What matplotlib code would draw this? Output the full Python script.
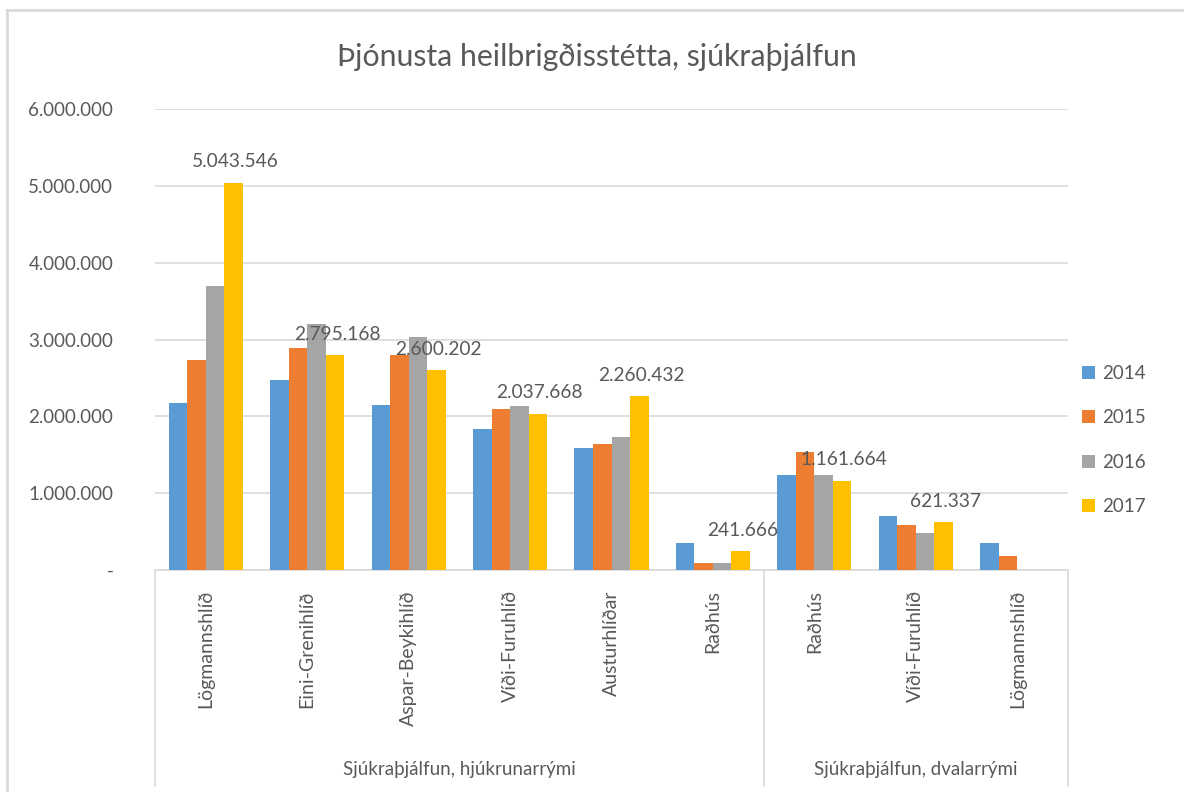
import matplotlib
matplotlib.use("Agg")
import matplotlib.pyplot as plt
from matplotlib.lines import Line2D
import matplotlib.transforms as mtransforms
import numpy as np

plt.rcParams['font.family'] = ['Lato', 'DejaVu Sans']

title = "Þjónusta heilbrigðisstétta, sjúkraþjálfun"
categories = ["Lögmannshlíð", "Eini-Grenihlíð", "Aspar-Beykihlíð", "Víði-Furuhlíð",
              "Austurhlíðar", "Raðhús", "Raðhús", "Víði-Furuhlíð", "Lögmannshlíð"]
groups = ["Sjúkraþjálfun, hjúkrunarrými", "Sjúkraþjálfun, dvalarrými"]
group_sizes = [6, 3]
years = ["2014", "2015", "2016", "2017"]
v2014 = [2180000, 2480000, 2150000, 1830000, 1585000, 347000, 1233000, 699000, 347000]
v2015 = [2730000, 2890000, 2800000, 2100000, 1637000, 95000, 1532000, 582000, 182000]
v2016 = [3700000, 3200000, 3030000, 2135000, 1736000, 95000, 1233000, 482000, 0]
v2017 = [5043546, 2795168, 2600202, 2037668, 2260432, 241666, 1161664, 621337, 0]
yticks = [0, 1000000, 2000000, 3000000, 4000000, 5000000, 6000000]

series = [v2014, v2015, v2016, v2017]
colors = ["#5B9BD5", "#ED7D31", "#A5A5A5", "#FFC000"]
txt = "#595959"
grid = "#D9D9D9"

W, H = 1184, 792
fig = plt.figure(figsize=(W / 100, H / 100), dpi=100)
fig.patch.set_facecolor("white")

L, R, B, T = 155, 1068, 570, 109.3
ax = fig.add_axes([L / W, 1 - B / H, (R - L) / W, (B - T) / H])

def fmt(v):
    if v == 0:
        return "-"
    return f"{int(v):,}".replace(",", ".")

x = np.arange(len(categories))
bw = 0.1825
for i, (vals, c, yr) in enumerate(zip(series, colors, years)):
    pos = x + (i - 1.5) * bw
    ax.bar(pos, vals, width=bw, color=c, label=yr, zorder=3)
    if yr == "2017":
        for p, v in zip(pos, vals):
            if v > 0:
                ax.annotate(fmt(v), (p + 0.02, v), xytext=(0, 9), textcoords="offset points",
                            ha="center", va="bottom", fontsize=13.8, color=txt, zorder=5)

ax.set_xlim(-0.5, len(categories) - 0.5)
ax.set_ylim(0, 6000000)
ax.set_yticks(yticks)
ax.set_yticklabels([fmt(v) for v in yticks], fontsize=13.5, color=txt)
ax.tick_params(axis="y", length=0, pad=30)
ax.set_xticks([])
ax.yaxis.grid(True, color=grid, linewidth=1.2, zorder=0)
for s in ["top", "right", "left"]:
    ax.spines[s].set_visible(False)
ax.spines["bottom"].set_color(grid)
ax.spines["bottom"].set_linewidth(1.2)

trans = mtransforms.blended_transform_factory(ax.transData, ax.transAxes)
ppx = 1.0 / (B - T)  # axes fraction per pixel
for xi, name in zip(x, categories):
    ax.text(xi, -(590 - B) * ppx, name, rotation=90, ha="center", va="top",
            fontsize=14, color=txt, transform=trans)

bounds = [-0.5]
for gs in group_sizes:
    bounds.append(bounds[-1] + gs)
for b in bounds:
    ax.add_line(Line2D([b, b], [0, -(786 - B) * ppx], color=grid, linewidth=1.2,
                       transform=trans, clip_on=False))
for gi, g in enumerate(groups):
    cx = (bounds[gi] + bounds[gi + 1]) / 2
    ax.text(cx, -(770 - B) * ppx, g, ha="center", va="center", fontsize=13.5,
            color=txt, transform=trans)

fig.text(597 / W, 1 - 57 / H, title, ha="center", va="center", fontsize=21.8, color=txt)

leg = fig.legend(loc="center left", bbox_to_anchor=(1074 / W, 1 - 440 / H), frameon=False,
                 fontsize=13.5, handlelength=0.7, handleheight=0.7, handletextpad=0.4,
                 labelspacing=1.47, borderaxespad=0)
for t in leg.get_texts():
    t.set_color(txt)

# chart border
fig.add_artist(Line2D([7 / W, 7 / W], [0, 1 - 10 / H], color=grid, linewidth=2, transform=fig.transFigure))
fig.add_artist(Line2D([7 / W, 1], [1 - 10 / H, 1 - 10 / H], color=grid, linewidth=2, transform=fig.transFigure))

fig.savefig("out.png", dpi=100, facecolor="white")
